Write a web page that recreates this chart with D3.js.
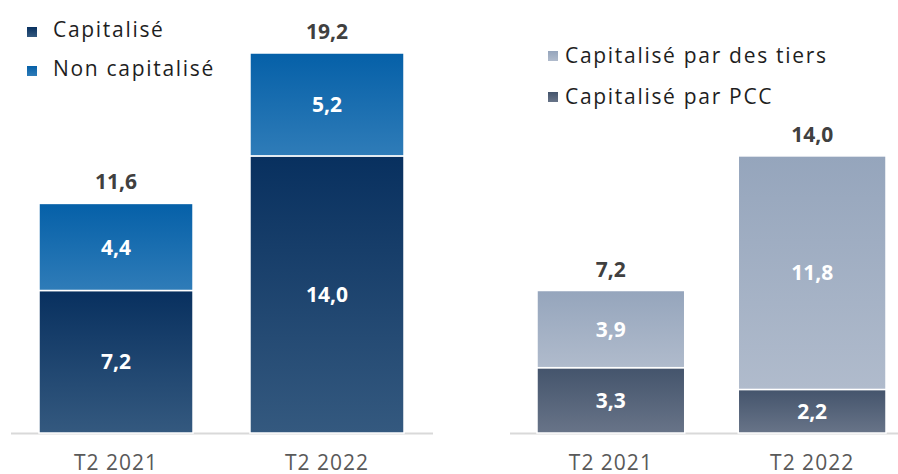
<!DOCTYPE html>
<html>
<head>
<meta charset="utf-8">
<script src="https://cdn.jsdelivr.net/npm/d3@7"></script>
<style>
  body { margin: 0; background: #fff; }
  svg { font-family: "Open Sans", "Noto Sans", sans-serif; }
</style>
</head>
<body>
<div id="chart"></div>
<script>
// data
const periods = ["T2 2021", "T2 2022"];
const capitalise = [7.2, 14.0];
const nonCapitalise = [4.4, 5.2];
const totalLeft = [11.6, 19.2];
const parPCC = [3.3, 2.2];
const parTiers = [3.9, 11.8];
const totalRight = [7.2, 14.0];

const fmt = v => d3.format(".1f")(v).replace(".", ",");

const width = 898, height = 474;
const svg = d3.select("#chart").append("svg")
	.attr("width", width)
	.attr("height", height);

const defs = svg.append("defs");
function grad(id, top, bottom) {
	let g = defs.append("linearGradient").attr("id", id)
		.attr("x1", 0).attr("y1", 0).attr("x2", 0).attr("y2", 1);
	g.append("stop").attr("offset", "0%").attr("stop-color", top);
	g.append("stop").attr("offset", "100%").attr("stop-color", bottom);
}
grad("g-cap", "#08305f", "#34597f");
grad("g-noncap", "#0560a8", "#2f7cb8");
grad("g-tiers", "#95a5bc", "#b0bbcc");
grad("g-pcc", "#44546c", "#687488");

// shared y scale (both panels use the same unit height)
const yScale = d3.scaleLinear().domain([0, 19.2]).range([433, 53]);

function panel(opts) {
	let g = svg.append("g");
	let xScale = d3.scaleBand().domain(periods).range(opts.range)
		.paddingInner(opts.padIn).paddingOuter(0);

	// baseline
	g.append("line")
		.attr("x1", opts.axis[0]).attr("x2", opts.axis[1])
		.attr("y1", yScale(0) + 0.5).attr("y2", yScale(0) + 0.5)
		.attr("stroke", "#d9d9d9").attr("stroke-width", 2);

	let stack = d3.stack().keys([0, 1])
		(periods.map((p, i) => ({ p: p, 0: opts.series[0][i], 1: opts.series[1][i] })));

	stack.forEach((layer, k) => {
		g.selectAll(null).data(layer).enter().append("rect")
			.attr("x", d => xScale(d.data.p))
			.attr("width", xScale.bandwidth())
			.attr("y", d => yScale(d[1]))
			.attr("height", d => yScale(d[0]) - yScale(d[1]))
			.attr("fill", `url(#${opts.grads[k]})`)
			.attr("stroke", "#fff").attr("stroke-width", 1.5);
		g.selectAll(null).data(layer).enter().append("text")
			.attr("x", d => xScale(d.data.p) + xScale.bandwidth() / 2)
			.attr("y", d => (yScale(d[0]) + yScale(d[1])) / 2)
			.attr("dy", "0.36em")
			.attr("text-anchor", "middle")
			.attr("fill", "#fff")
			.attr("font-size", 21).attr("font-weight", 700)
			.text(d => fmt(d[1] - d[0]));
	});

	// totals
	g.selectAll(null).data(opts.totals).enter().append("text")
		.attr("x", (d, i) => xScale(periods[i]) + xScale.bandwidth() / 2)
		.attr("y", d => yScale(d) - 14)
		.attr("text-anchor", "middle")
		.attr("fill", "#404040")
		.attr("font-size", 21).attr("font-weight", 700)
		.text(d => fmt(d));

	// category labels
	g.selectAll(null).data(periods).enter().append("text")
		.attr("x", d => xScale(d) + xScale.bandwidth() / 2)
		.attr("y", 470)
		.attr("text-anchor", "middle")
		.attr("fill", "#595959")
		.attr("font-size", 21)
		.attr("letter-spacing", 1)
		.text(d => d);

	// legend
	opts.legend.forEach((l, i) => {
		let y = opts.legendY + i * opts.legendStep;
		g.append("rect")
			.attr("x", opts.legendX).attr("y", y - 5 + opts.sqShift)
			.attr("width", 10).attr("height", 10)
			.attr("fill", `url(#${l.grad})`);
		g.append("text")
			.attr("x", opts.legendX + opts.legendGap).attr("y", y)
			.attr("dy", "0.36em")
			.attr("fill", "#1e1e1e")
			.attr("font-size", 21)
			.attr("letter-spacing", 1.7)
			.text(l.name);
	});
}

panel({
	range: [39, 404], padIn: 0.27,
	axis: [11, 433],
	series: [capitalise, nonCapitalise],
	grads: ["g-cap", "g-noncap"],
	totals: totalLeft,
	legend: [{ name: "Capitalisé", grad: "g-cap" }, { name: "Non capitalisé", grad: "g-noncap" }],
	legendX: 27, legendY: 29, legendStep: 39, legendGap: 26, sqShift: 3
});

panel({
	range: [537, 886], padIn: 0.266,
	axis: [510, 898],
	series: [parPCC, parTiers],
	grads: ["g-pcc", "g-tiers"],
	totals: totalRight,
	legend: [{ name: "Capitalisé par des tiers", grad: "g-tiers" }, { name: "Capitalisé par PCC", grad: "g-pcc" }],
	legendX: 548, legendY: 55, legendStep: 41, legendGap: 17, sqShift: 1
});
</script>
</body>
</html>
